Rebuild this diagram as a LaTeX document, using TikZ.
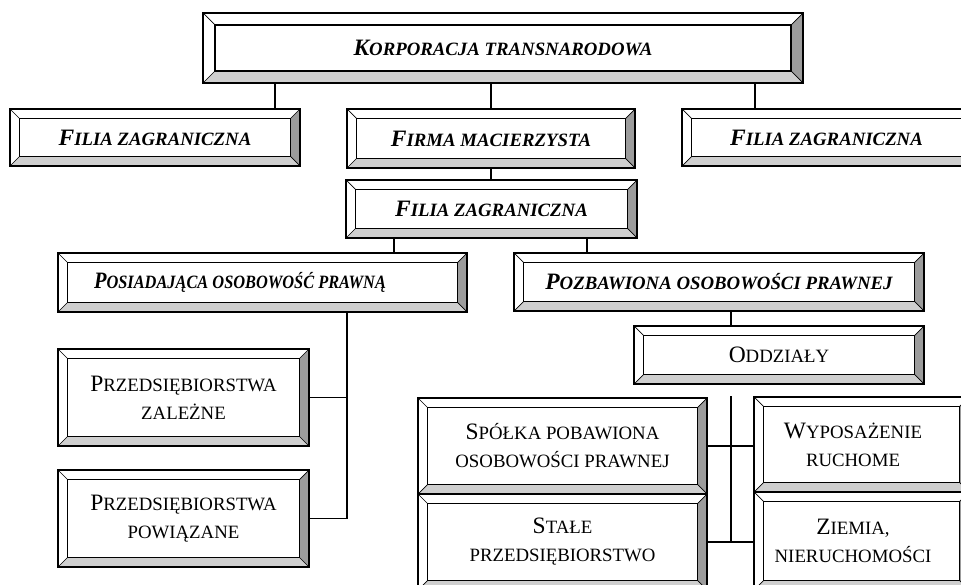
\documentclass[tikz,border=0pt]{standalone}
\usepackage{fontspec}
\usepackage{graphicx}
\setmainfont{Liberation Serif}
\newcommand\bigsz{\fontsize{23.5pt}{28pt}\selectfont}
\newcommand\smsz{\fontsize{18.8pt}{28pt}\selectfont}
\newcommand\SCx[2]{{\bigsz #1}{\smsz #2}}
\definecolor{bevright}{HTML}{9C9C9C}
\definecolor{bevbot}{HTML}{CFCFCF}
\def\bw{9.5pt}
\tikzset{
  bevw/.store in=\bw,
  bevbox/.style={draw, line width=1.5pt, fill=white, inner sep=0pt, align=center,
    font=\bigsz,
    path picture={
      \coordinate (ppsw) at (path picture bounding box.south west);
      \coordinate (ppse) at (path picture bounding box.south east);
      \coordinate (ppne) at (path picture bounding box.north east);
      \coordinate (ppnw) at (path picture bounding box.north west);
      \fill[bevbot] (ppsw) -- (ppse) -- ([shift={(-\bw,\bw)}]ppse) -- ([shift={(\bw,\bw)}]ppsw) -- cycle;
      \fill[bevright] (ppse) -- (ppne) -- ([shift={(-\bw,-\bw)}]ppne) -- ([shift={(-\bw,\bw)}]ppse) -- cycle;
      \draw[line width=1.5pt] ([shift={(\bw,\bw)}]ppsw) rectangle ([shift={(-\bw,-\bw)}]ppne);
      \draw[line width=0.7pt] (ppsw) -- ([shift={(\bw,\bw)}]ppsw)
                              (ppnw) -- ([shift={(\bw,-\bw)}]ppnw)
                              (ppne) -- ([shift={(-\bw,-\bw)}]ppne)
                              (ppse) -- ([shift={(-\bw,\bw)}]ppse);
    }},
  bi/.style={font=\bigsz\bfseries\itshape},
  txt/.style={inner sep=0pt, align=center, font=\bigsz},
  conn/.style={line width=1.5pt},
}
\begin{document}
\begin{tikzpicture}[x=1pt,y=-1pt]
\useasboundingbox (0,0) rectangle (961,585);
\clip (0,0) rectangle (961,585);
\fill[white] (0,0) rectangle (961,585);

% boxes
\node[bevbox,bi,bevw=12pt,minimum width=600pt,minimum height=70pt] (top) at (503,48) {\SCx{K}{ORPORACJA TRANSNARODOWA}};
\node[bevbox,bi,minimum width=290pt,minimum height=57pt] (fz1) at (155,137.5) {\SCx{F}{ILIA ZAGRANICZNA}};
\node[bevbox,bi,minimum width=288pt,minimum height=59pt] (fm) at (491,138.5) {\SCx{F}{IRMA MACIERZYSTA}};
\node[bevbox,bi,minimum width=289pt,minimum height=57pt] (fz3) at (826.5,137.5) {\SCx{F}{ILIA ZAGRANICZNA}};
\node[bevbox,bi,minimum width=291pt,minimum height=58pt] (fz) at (491.5,209) {\SCx{F}{ILIA ZAGRANICZNA}};
\node[bevbox,minimum width=409pt,minimum height=59pt] (pos) at (262.5,282.5) {};
\node[txt,bi] (posT) at (240,282.5) {\scalebox{0.87}[1]{\SCx{P}{OSIADAJĄCA OSOBOWOŚĆ PRAWNĄ}}};
\node[bevbox,bi,minimum width=410pt,minimum height=58pt] (poz) at (719,282) {\SCx{P}{OZBAWIONA OSOBOWOŚCI PRAWNEJ}};
\node[bevbox,minimum width=290pt,minimum height=58pt] (odd) at (779,355) {\SCx{O}{DDZIAŁY}};
\node[bevbox,minimum width=251pt,minimum height=97pt] (pz) at (183.5,397.5) {\SCx{P}{RZEDSIĘBIORSTWA}\\{\smsz ZALEŻNE}};
\node[bevbox,minimum width=251pt,minimum height=97pt] (pp) at (183.5,518.5) {\SCx{P}{RZEDSIĘBIORSTWA}\\{\smsz POWIĄZANE}};
\node[bevbox,minimum width=289pt,minimum height=96pt] (sp) at (562.5,446) {\SCx{S}{PÓŁKA POBAWIONA}\\{\smsz OSOBOWOŚCI PRAWNEJ}};
\node[bevbox,minimum width=289pt,minimum height=96pt] (st) at (562.5,542) {\SCx{S}{TAŁE}\\{\smsz PRZEDSIĘBIORSTWO}};
\node[bevbox,minimum width=215pt,minimum height=95pt] (wy) at (861.5,444.5) {};
\node[txt] (wyT) at (853,444.5) {\SCx{W}{YPOSAŻENIE}\\{\smsz RUCHOME}};
\node[bevbox,minimum width=215pt,minimum height=98pt] (zi) at (861.5,541) {};
\node[txt] (ziT) at (853,541) {\SCx{Z}{IEMIA,}\\{\smsz NIERUCHOMOŚCI}};

% connectors
\coordinate (c1) at ([xshift=120pt]fz1.north);
\draw[conn] (c1) -- (c1 |- top.south);
\draw[conn] (fm.north) -- (fm.north |- top.south);
\coordinate (c3) at ([xshift=-71.5pt]fz3.north);
\draw[conn] (c3) -- (c3 |- top.south);
\draw[conn] (fm.south) -- (fm.south |- fz.north);
\coordinate (c4) at ([xshift=-97.5pt]fz.south);
\draw[conn] (c4) -- (c4 |- pos.north);
\coordinate (c5) at ([xshift=95.5pt]fz.south);
\draw[conn] (c5) -- (c5 |- poz.north);
\coordinate (c6) at ([xshift=12pt]poz.south);
\draw[conn] (c6) -- (c6 |- odd.north);
\coordinate (c7) at ([xshift=84.5pt]pos.south);
\draw[conn] (c7) -- (c7 |- pp.east) -- (pp.east);
\draw[conn] (pz.east) -- (pz.east -| c7);
\coordinate (c8) at (731,396);
\draw[conn] (c8) -- (c8 |- st.east);
\draw[conn] (sp.east) -- (sp.east -| wy.west);
\draw[conn] (st.east) -- (st.east -| zi.west);
\end{tikzpicture}
\end{document}
